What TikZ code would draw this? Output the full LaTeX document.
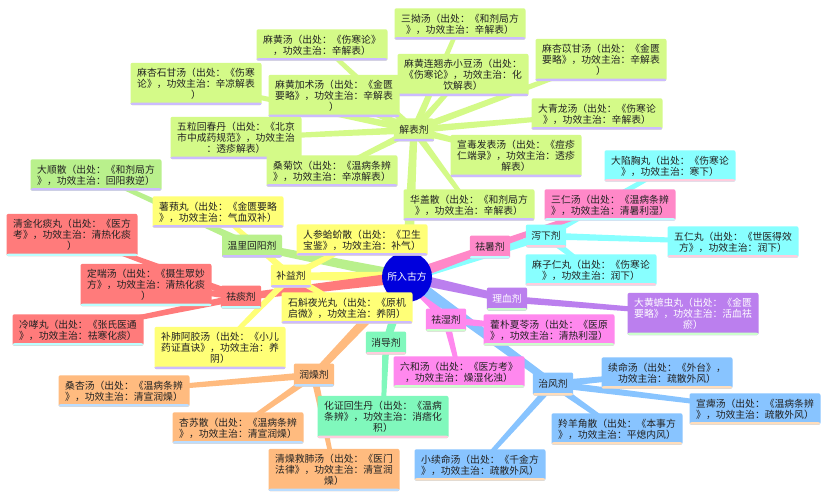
\documentclass[tikz,border=0pt]{standalone}
\usepackage{fontspec}
\newfontfamily\cjkf{Noto Sans CJK SC}
\usetikzlibrary{calc}
\pgfdeclarelayer{bg}
\pgfdeclarelayer{paper}
\pgfsetlayers{paper,bg,main}
\definecolor{cjb}{RGB}{212,250,136}
\definecolor{cwl}{RGB}{185,240,140}
\definecolor{cby}{RGB}{255,255,119}
\definecolor{cqt}{RGB}{255,123,123}
\definecolor{crz}{RGB}{255,187,127}
\definecolor{cxd}{RGB}{128,248,188}
\definecolor{cqs}{RGB}{255,136,238}
\definecolor{czf}{RGB}{136,196,255}
\definecolor{clx}{RGB}{187,127,238}
\definecolor{cxx}{RGB}{136,255,255}
\definecolor{cqh}{RGB}{255,136,200}
\definecolor{slav}{RGB}{204,187,255}
\definecolor{scyan}{RGB}{187,255,255}
\definecolor{sblue}{RGB}{187,221,255}
\definecolor{spink}{RGB}{255,204,221}
\definecolor{sgreen}{RGB}{204,255,204}
\definecolor{speach}{RGB}{255,221,187}
\definecolor{ctext}{RGB}{34,34,34}
\definecolor{cblue}{RGB}{0,0,221}
\newcommand\conn[5]{\begin{pgfonlayer}{bg}\fill[#1] ($(#2.center)!#4!90:(#3.center)$) -- ($(#3.center)!#5!-90:(#2.center)$) -- ($(#3.center)!#5!90:(#2.center)$) -- ($(#2.center)!#4!-90:(#3.center)$) -- cycle;\end{pgfonlayer}}
\newcommand\mainconn[2]{\conn{#1}{C}{#2}{5.5pt}{3.5pt}}
\newcommand\subconn[3]{\conn{#1}{#2}{#3}{3.5pt}{2pt}}
\tikzset{
  box/.style 2 args={draw=none, fill=#1, rounded corners=2pt, align=center,
    inner xsep=4pt, inner ysep=5.5pt, text=ctext,
    font=\cjkf\fontsize{9.8pt}{11pt}\selectfont,
    path picture={\fill[#2] ([yshift=2.5pt]path picture bounding box.south west) rectangle (path picture bounding box.south east);}},
  leaf/.style 2 args={box={#1}{#2}, minimum width=131pt},
  cat/.style 2 args={box={#1}{#2}, minimum height=23pt, inner xsep=5.5pt},
  hub/.style={circle, fill=cblue, minimum size=50pt, inner sep=0pt, text=white,
    font=\cjkf\fontsize{9.8pt}{11pt}\selectfont}
}
\begin{document}
\begin{tikzpicture}[x=1pt,y=-1pt]
\begin{pgfonlayer}{paper}
\fill[white] (0,0) rectangle (827,500);
\end{pgfonlayer}
\useasboundingbox (0,0) rectangle (827,500);
% center
\node[hub] (C) at (407,277) {所入古方};
% categories
\node[cat={cjb}{slav}] (JB) at (414,130) {解表剂};
\node[cat={cwl}{slav}] (WL) at (252,246) {温里回阳剂};
\node[cat={cby}{slav}] (BY) at (291,276) {补益剂};
\node[cat={cqt}{scyan}] (QT) at (241,297) {祛痰剂};
\node[cat={crz}{sblue}] (RZ) at (314,375) {润燥剂};
\node[cat={cxd}{spink}] (XD) at (386,343) {消导剂};
\node[cat={cqs}{sgreen}] (QS) at (446,320) {祛湿剂};
\node[cat={czf}{speach}] (ZF) at (553,384) {治风剂};
\node[cat={clx}{sgreen}, text=white] (LX) at (507,299) {理血剂};
\node[cat={cxx}{spink}] (XX) at (546,236) {泻下剂};
\node[cat={cqh}{scyan}] (QH) at (490,247) {祛暑剂};
% 解表剂 leaves
\node[leaf={cjb}{slav}] (j1) at (322,45) {麻黄汤（出处：《伤寒论》\\，功效主治：辛解表）};
\node[leaf={cjb}{slav}] (j2) at (460,24) {三拗汤（出处：《和剂局方\\》，功效主治：辛解表）};
\node[leaf={cjb}{slav}] (j3) at (463,75) {麻黄连翘赤小豆汤（出处：\\《伤寒论》，功效主治：化\\饮解表）};
\node[leaf={cjb}{slav}] (j4) at (601,60) {麻杏苡甘汤（出处：《金匮\\要略》，功效主治：辛解表\\）};
\node[leaf={cjb}{slav}] (j5) at (334,96) {麻黄加术汤（出处：《金匮\\要略》，功效主治：辛解表\\）};
\node[leaf={cjb}{slav}] (j6) at (196,84) {麻杏石甘汤（出处：《伤寒\\论》，功效主治：辛凉解表\\）};
\node[leaf={cjb}{slav}] (j7) at (597,114) {大青龙汤（出处：《伤寒论\\》，功效主治：辛解表）};
\node[leaf={cjb}{slav}] (j8) at (236,138) {五粒回春丹（出处：《北京\\市中成药规范》，功效主治\\：透疹解表）};
\node[leaf={cjb}{slav}] (j9) at (332,171) {桑菊饮（出处：《温病条辨\\》，功效主治：辛凉解表）};
\node[leaf={cjb}{slav}] (j10) at (516,156) {宣毒发表汤（出处：《痘疹\\仁端录》，功效主治：透疹\\解表）};
\node[leaf={cjb}{slav}] (j11) at (469,205) {华盖散（出处：《和剂局方\\》，功效主治：辛解表）};
% 温里回阳剂
\node[leaf={cwl}{slav}] (w1) at (96,175) {大顺散（出处：《和剂局方\\》，功效主治：回阳救逆）};
% 补益剂
\node[leaf={cby}{slav}] (b1) at (218,212) {薯蓣丸（出处：《金匮要略\\》，功效主治：气血双补）};
\node[leaf={cby}{slav}] (b2) at (362,240) {人参蛤蚧散（出处：《卫生\\宝鉴》，功效主治：补气）};
\node[leaf={cby}{slav}] (b3) at (347,308) {石斛夜光丸（出处：《原机\\启微》，功效主治：养阴）};
\node[leaf={cby}{slav}] (b4) at (220,348) {补肺阿胶汤（出处：《小儿\\药证直诀》，功效主治：养\\阴）};
% 祛痰剂
\node[leaf={cqt}{scyan}] (t1) at (72,235) {清金化痰丸（出处：《医方\\考》，功效主治：清热化痰\\）};
\node[leaf={cqt}{scyan}] (t2) at (146,285) {定喘汤（出处：《摄生眾妙\\方》，功效主治：清热化痰\\）};
\node[leaf={cqt}{scyan}] (t3) at (78,330) {冷哮丸（出处：《张氏医通\\》，功效主治：祛寒化痰）};
% 润燥剂
\node[leaf={crz}{sblue}] (r1) at (124,391) {桑杏汤（出处：《温病条辨\\》，功效主治：清宣润燥）};
\node[leaf={crz}{sblue}] (r2) at (238,428) {杏苏散（出处：《温病条辨\\》，功效主治：清宣润燥）};
\node[leaf={crz}{sblue}] (r3) at (334,470) {清燥救肺汤（出处：《医门\\法律》，功效主治：清宣润\\燥）};
% 消导剂
\node[leaf={cxd}{spink}] (x1) at (383,417) {化证回生丹（出处：《温病\\条辨》，功效主治：消痞化\\积）};
% 祛湿剂
\node[leaf={cqs}{sgreen}] (s1) at (459,372) {六和汤（出处：《医方考》\\，功效主治：燥湿化浊）};
\node[leaf={cqs}{sgreen}] (s2) at (549,330) {藿朴夏苓汤（出处：《医原\\》，功效主治：清热利湿）};
% 治风剂
\node[leaf={czf}{speach}] (f1) at (667,373) {续命汤（出处：《外台》，\\功效主治：疏散外风）};
\node[leaf={czf}{speach}] (f2) at (755,409) {宣痺汤（出处：《温病条辨\\》，功效主治：疏散外风）};
\node[leaf={czf}{speach}] (f3) at (617,429) {羚羊角散（出处：《本事方\\》，功效主治：平熄内风）};
\node[leaf={czf}{speach}] (f4) at (480,465) {小续命汤（出处：《千金方\\》，功效主治：疏散外风）};
% 理血剂
\node[leaf={clx}{sgreen}, text=white] (l1) at (693,314) {大黄蟅虫丸（出处：《金匮\\要略》，功效主治：活血祛\\瘀）};
% 泻下剂
\node[leaf={cxx}{spink}] (d1) at (670,166) {大陷胸丸（出处：《伤寒论\\》，功效主治：寒下）};
\node[leaf={cxx}{spink}] (d2) at (733,242) {五仁丸（出处：《世医得效\\方》，功效主治：润下）};
\node[leaf={cxx}{spink}] (d3) at (591,270) {麻子仁丸（出处：《伤寒论\\》，功效主治：润下）};
% 祛暑剂
\node[leaf={cqh}{scyan}] (h1) at (610,205) {三仁汤（出处：《温病条辨\\》，功效主治：清暑利湿）};
% connectors center -> categories
\mainconn{cjb}{JB}
\mainconn{cwl}{WL}
\mainconn{cby}{BY}
\mainconn{cqt}{QT}
\mainconn{crz}{RZ}
\mainconn{cxd}{XD}
\mainconn{cqs}{QS}
\mainconn{czf}{ZF}
\mainconn{clx}{LX}
\mainconn{cxx}{XX}
\mainconn{cqh}{QH}
% category -> leaves
\foreach \n in {j1,j2,j3,j4,j5,j6,j7,j8,j9,j10,j11}{\subconn{cjb}{JB}{\n}}
\subconn{cwl}{WL}{w1}
\foreach \n in {b1,b2,b3,b4}{\subconn{cby}{BY}{\n}}
\foreach \n in {t1,t2,t3}{\subconn{cqt}{QT}{\n}}
\foreach \n in {r1,r2,r3}{\subconn{crz}{RZ}{\n}}
\subconn{cxd}{XD}{x1}
\foreach \n in {s1,s2}{\subconn{cqs}{QS}{\n}}
\foreach \n in {f1,f2,f3,f4}{\subconn{czf}{ZF}{\n}}
\subconn{clx}{LX}{l1}
\foreach \n in {d1,d2,d3}{\subconn{cxx}{XX}{\n}}
\subconn{cqh}{QH}{h1}
\end{tikzpicture}
\end{document}
